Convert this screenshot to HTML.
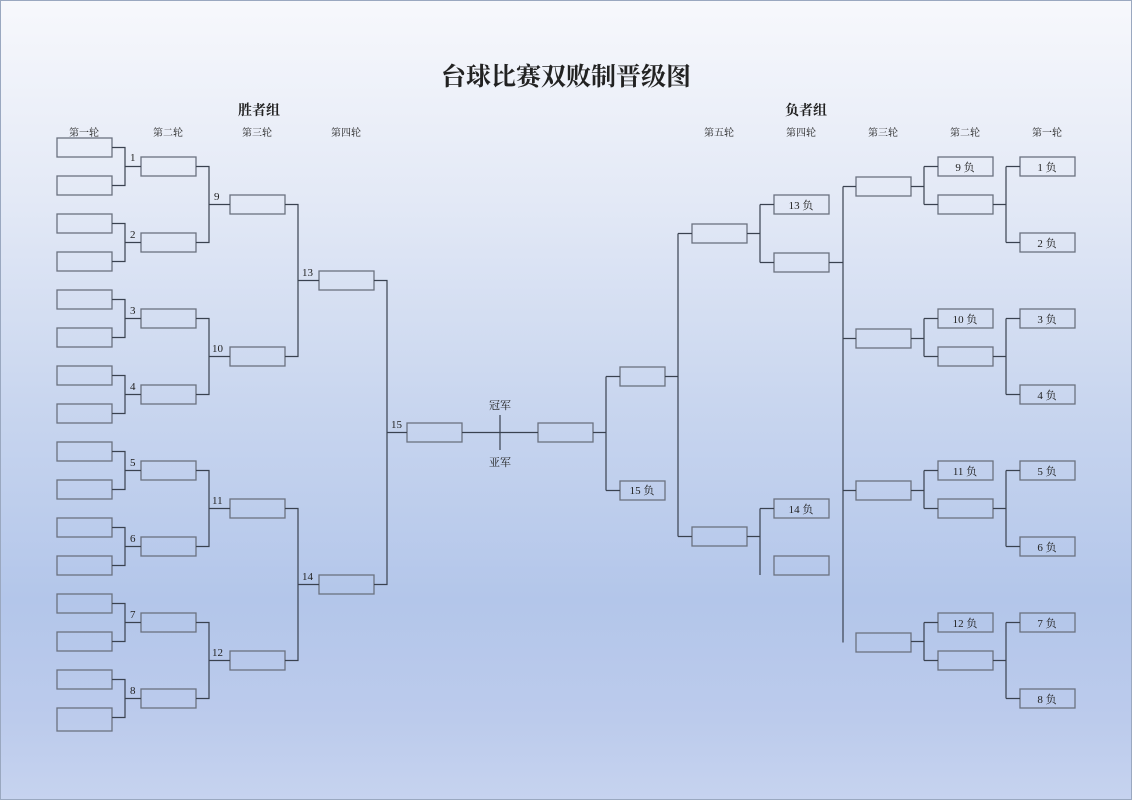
<!DOCTYPE html>
<html><head><meta charset="utf-8"><style>
html,body{margin:0;padding:0;}
body{width:1132px;height:800px;overflow:hidden;background:linear-gradient(180deg,#f7f8fc 0%,#e3e9f6 25%,#c9d6ef 50%,#b3c6ea 75%,#bccbec 90%,#c6d3ef 100%);font-family:"Liberation Serif","Noto Serif CJK SC",serif;}
svg{position:absolute;left:0;top:0;}
text{font-family:"Liberation Serif","Noto Serif CJK SC",serif;fill:#222;}
</style></head><body>
<svg width="1132" height="800" viewBox="0 0 1132 800">
<rect x="0.5" y="0.5" width="1131" height="799" fill="none" stroke="#9aa8c0"/>
<text x="566" y="85" font-size="25" font-weight="bold" text-anchor="middle" font-family="'Noto Sans CJK SC',sans-serif">台球比赛双败制晋级图</text>
<text x="259" y="115" font-size="14" font-weight="bold" text-anchor="middle">胜者组</text>
<text x="806" y="115" font-size="14" font-weight="bold" text-anchor="middle">负者组</text>
<g font-size="10" text-anchor="middle">
<text x="84" y="136">第一轮</text><text x="168" y="136">第二轮</text><text x="257" y="136">第三轮</text><text x="346" y="136">第四轮</text>
<text x="719" y="136">第五轮</text><text x="801" y="136">第四轮</text><text x="883" y="136">第三轮</text><text x="965" y="136">第二轮</text><text x="1047" y="136">第一轮</text>
</g>
<g fill="none" stroke="#6b7280" stroke-width="1.3">
<rect x="57" y="138" width="55" height="19"/><rect x="57" y="176" width="55" height="19"/>
<rect x="57" y="214" width="55" height="19"/><rect x="57" y="252" width="55" height="19"/>
<rect x="57" y="290" width="55" height="19"/><rect x="57" y="328" width="55" height="19"/>
<rect x="57" y="366" width="55" height="19"/><rect x="57" y="404" width="55" height="19"/>
<rect x="57" y="442" width="55" height="19"/><rect x="57" y="480" width="55" height="19"/>
<rect x="57" y="518" width="55" height="19"/><rect x="57" y="556" width="55" height="19"/>
<rect x="57" y="594" width="55" height="19"/><rect x="57" y="632" width="55" height="19"/>
<rect x="57" y="670" width="55" height="19"/><rect x="57" y="708" width="55" height="23"/>
<rect x="141" y="157" width="55" height="19"/><rect x="141" y="233" width="55" height="19"/>
<rect x="141" y="309" width="55" height="19"/><rect x="141" y="385" width="55" height="19"/>
<rect x="141" y="461" width="55" height="19"/><rect x="141" y="537" width="55" height="19"/>
<rect x="141" y="613" width="55" height="19"/><rect x="141" y="689" width="55" height="19"/>
<rect x="230" y="195" width="55" height="19"/><rect x="230" y="347" width="55" height="19"/>
<rect x="230" y="499" width="55" height="19"/><rect x="230" y="651" width="55" height="19"/>
<rect x="319" y="271" width="55" height="19"/><rect x="319" y="575" width="55" height="19"/>
<rect x="407" y="423" width="55" height="19"/>
<rect x="538" y="423" width="55" height="19"/>
<rect x="620" y="367" width="45" height="19"/><rect x="620" y="481" width="45" height="19"/>
<rect x="692" y="224" width="55" height="19"/><rect x="692" y="527" width="55" height="19"/>
<rect x="774" y="195" width="55" height="19"/><rect x="774" y="253" width="55" height="19"/>
<rect x="774" y="499" width="55" height="19"/><rect x="774" y="556" width="55" height="19"/>
<rect x="856" y="177" width="55" height="19"/><rect x="856" y="329" width="55" height="19"/>
<rect x="856" y="481" width="55" height="19"/><rect x="856" y="633" width="55" height="19"/>
<rect x="938" y="157" width="55" height="19"/><rect x="938" y="195" width="55" height="19"/>
<rect x="938" y="309" width="55" height="19"/><rect x="938" y="347" width="55" height="19"/>
<rect x="938" y="461" width="55" height="19"/><rect x="938" y="499" width="55" height="19"/>
<rect x="938" y="613" width="55" height="19"/><rect x="938" y="651" width="55" height="19"/>
<rect x="1020" y="157" width="55" height="19"/><rect x="1020" y="233" width="55" height="19"/>
<rect x="1020" y="309" width="55" height="19"/><rect x="1020" y="385" width="55" height="19"/>
<rect x="1020" y="461" width="55" height="19"/><rect x="1020" y="537" width="55" height="19"/>
<rect x="1020" y="613" width="55" height="19"/><rect x="1020" y="689" width="55" height="19"/>
</g>
<g fill="none" stroke="#3a4250" stroke-width="1.2">
<path d="M112 147.5H125V185.5H112M125 166.5H141"/>
<path d="M112 223.5H125V261.5H112M125 242.5H141"/>
<path d="M112 299.5H125V337.5H112M125 318.5H141"/>
<path d="M112 375.5H125V413.5H112M125 394.5H141"/>
<path d="M112 451.5H125V489.5H112M125 470.5H141"/>
<path d="M112 527.5H125V565.5H112M125 546.5H141"/>
<path d="M112 603.5H125V641.5H112M125 622.5H141"/>
<path d="M112 679.5H125V717.5H112M125 698.5H141"/>
<path d="M196 166.5H209V242.5H196M209 204.5H230"/>
<path d="M196 318.5H209V394.5H196M209 356.5H230"/>
<path d="M196 470.5H209V546.5H196M209 508.5H230"/>
<path d="M196 622.5H209V698.5H196M209 660.5H230"/>
<path d="M285 204.5H298V356.5H285M298 280.5H319"/>
<path d="M285 508.5H298V660.5H285M298 584.5H319"/>
<path d="M374 280.5H387V584.5H374M387 432.5H407"/>
<path d="M462 432.5H538M500 415V450"/>
<path d="M593 432.5H606M606 376.5V490.5M606 376.5H620M606 490.5H620"/>
<path d="M665 376.5H678M678 233.5V536.5M678 233.5H692M678 536.5H692"/>
<path d="M747 233.5H760M760 204.5V262.5M760 204.5H774M760 262.5H774"/>
<path d="M747 536.5H760M760 508.5V575M760 508.5H774"/>
<path d="M829 262.5H843M843 186.5V642.5M843 186.5H856M843 338.5H856M843 490.5H856"/>
<path d="M911 186.5H924M924 166.5V204.5M924 166.5H938M924 204.5H938"/>
<path d="M911 338.5H924M924 318.5V356.5M924 318.5H938M924 356.5H938"/>
<path d="M911 490.5H924M924 470.5V508.5M924 470.5H938M924 508.5H938"/>
<path d="M911 641.5H924M924 622.5V660.5M924 622.5H938M924 660.5H938"/>
<path d="M993 204.5H1006M1006 166.5V242.5M1006 166.5H1020M1006 242.5H1020"/>
<path d="M993 356.5H1006M1006 318.5V394.5M1006 318.5H1020M1006 394.5H1020"/>
<path d="M993 508.5H1006M1006 470.5V546.5M1006 470.5H1020M1006 546.5H1020"/>
<path d="M993 660.5H1006M1006 622.5V698.5M1006 622.5H1020M1006 698.5H1020"/>
</g>
<g font-size="11">
<text x="130" y="161">1</text><text x="130" y="238">2</text><text x="130" y="314">3</text><text x="130" y="390">4</text>
<text x="130" y="466">5</text><text x="130" y="542">6</text><text x="130" y="618">7</text><text x="130" y="694">8</text>
<text x="214" y="200">9</text><text x="212" y="352">10</text><text x="212" y="504">11</text><text x="212" y="656">12</text>
<text x="302" y="276">13</text><text x="302" y="580">14</text><text x="391" y="428">15</text>
</g>
<g font-size="11" text-anchor="middle">
<text x="500" y="409">冠军</text><text x="500" y="466">亚军</text>
<text x="642" y="494">15 负</text>
<text x="801" y="209">13 负</text><text x="801" y="513">14 负</text>
<text x="965" y="171">9 负</text><text x="965" y="323">10 负</text><text x="965" y="475">11 负</text><text x="965" y="627">12 负</text>
<text x="1047" y="171">1 负</text><text x="1047" y="247">2 负</text><text x="1047" y="323">3 负</text><text x="1047" y="399">4 负</text>
<text x="1047" y="475">5 负</text><text x="1047" y="551">6 负</text><text x="1047" y="627">7 负</text><text x="1047" y="703">8 负</text>
</g>
</svg>
</body></html>
